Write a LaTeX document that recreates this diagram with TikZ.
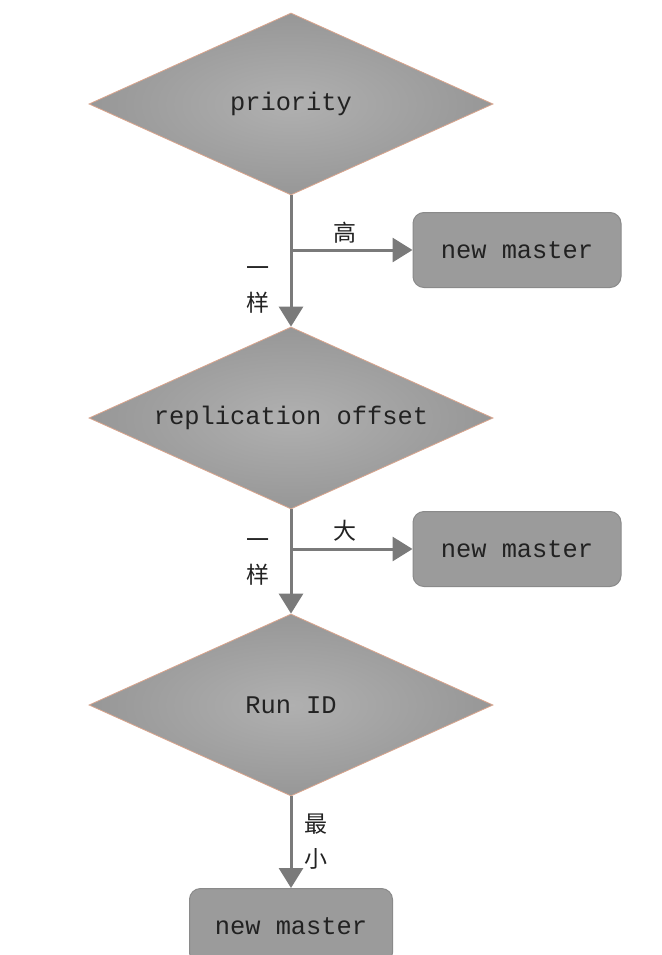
\documentclass[tikz,border=0pt]{standalone}
\usepackage{fontspec}
\setmonofont{Liberation Mono}
\newfontfamily\cjk{Noto Sans CJK SC}
\usetikzlibrary{shapes.geometric,arrows.meta}
\definecolor{edgeline}{HTML}{D9A48C}
\definecolor{diainner}{HTML}{B0B0B0}
\definecolor{diaouter}{HTML}{979797}
\definecolor{boxfill}{HTML}{9B9B9B}
\definecolor{boxline}{HTML}{8A8A8A}
\definecolor{flowline}{HTML}{7A7A7A}
\definecolor{ink}{HTML}{222222}
\tikzset{
	test/.style={diamond, draw=edgeline, line width=0.8pt, shading=radial,
		inner color=diainner, outer color=diaouter, minimum width=404pt,
		minimum height=182pt, aspect=2.22, inner sep=0pt,
		font=\ttfamily\fontsize{25.4}{25.4}\selectfont, text=ink},
	result/.style={rectangle, rounded corners=11pt, draw=boxline, line width=1pt,
		fill=boxfill, minimum width=208pt, minimum height=75pt,
		font=\ttfamily\fontsize{25.4}{25.4}\selectfont, text=ink},
	flow/.style={draw=flowline, line width=3pt, -{Triangle[length=20pt,width=24pt]}},
	note/.style={font=\cjk\fontsize{23}{35}\selectfont, text=ink, align=center, inner sep=0pt}
}
\begin{document}
\begin{tikzpicture}[x=1pt,y=-1pt]
	\useasboundingbox (0,0) rectangle (661,955);
	\clip (0,0) rectangle (661,955);
	\fill[white] (0,0) rectangle (661,955);
	% decisions
	\node[test] (prio) at (291,104) {priority};
	\node[test] (offset) at (291,418) {replication offset};
	\node[test] (runid) at (291,705) {Run ID};
	% results
	\node[result] (master1) at (517,250) {new master};
	\node[result] (master2) at (517,549) {new master};
	\node[result, minimum width=203pt] (master3) at (291,926) {new master};
	% connectors
	\draw[flow] (prio.south) -- (offset.north);
	\coordinate (fork1) at (prio.south |- master1.west);
	\draw[flow] (fork1) -- (master1.west);
	\draw[flow] (offset.south) -- (runid.north);
	\coordinate (fork2) at (offset.south |- master2.west);
	\draw[flow] (fork2) -- (master2.west);
	\draw[flow] (runid.south) -- (master3.north);
	% labels
	\node[note] (high) at (345,233) {高};
	\node[note] (same1) at (258,290) {一\\样};
	\node[note] (big) at (345,531) {大};
	\node[note] (same2) at (258,562) {一\\样};
	\node[note] (least) at (316,842) {最\\小};
\end{tikzpicture}
\end{document}
